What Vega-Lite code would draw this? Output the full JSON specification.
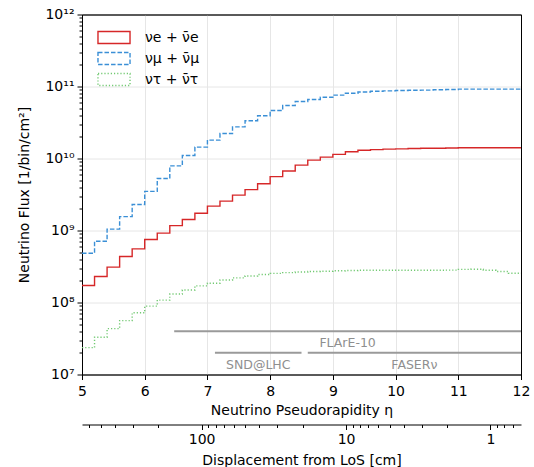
{
  "$schema": "https://vega.github.io/schema/vega-lite/v6.json",
  "width": 439,
  "height": 360,
  "autosize": "none",
  "padding": {"left": 82, "top": 14.5, "right": 13, "bottom": 92.5},
  "view": {"stroke": "black", "strokeWidth": 1},
  "config": {
    "font": "DejaVu Sans",
    "view": {"stroke": "black", "strokeWidth": 1},
    "axis": {
      "labelFontSize": 14, "titleFontSize": 14, "titleFontWeight": "normal",
      "labelColor": "black", "titleColor": "black", "domainColor": "black", "tickColor": "black",
      "gridColor": "#e6e6e6", "labelFont": "DejaVu Sans", "titleFont": "DejaVu Sans",
      "labelFlush": false, "labelOverlap": false
    }
  },
  "datasets": {
    "flux": [
      {"eta":5,"f":"e","flux":1.72e8},{"eta":5.2,"f":"e","flux":2.3e8},{"eta":5.4,"f":"e","flux":3.1e8},{"eta":5.6,"f":"e","flux":4.36e8},{"eta":5.8,"f":"e","flux":5.56e8},{"eta":6,"f":"e","flux":7.5e8},{"eta":6.2,"f":"e","flux":9.2e8},{"eta":6.4,"f":"e","flux":1.17e9},{"eta":6.6,"f":"e","flux":1.42e9},{"eta":6.8,"f":"e","flux":1.74e9},{"eta":7,"f":"e","flux":2.18e9},{"eta":7.2,"f":"e","flux":2.56e9},{"eta":7.4,"f":"e","flux":3.1e9},{"eta":7.6,"f":"e","flux":3.7e9},{"eta":7.8,"f":"e","flux":4.45e9},{"eta":8,"f":"e","flux":5.6e9},{"eta":8.2,"f":"e","flux":6.7e9},{"eta":8.4,"f":"e","flux":8.1e9},{"eta":8.6,"f":"e","flux":9.5e9},{"eta":8.8,"f":"e","flux":1.045e10},{"eta":9,"f":"e","flux":1.14e10},{"eta":9.2,"f":"e","flux":1.24e10},{"eta":9.4,"f":"e","flux":1.3e10},{"eta":9.6,"f":"e","flux":1.33e10},{"eta":9.8,"f":"e","flux":1.35e10},{"eta":10,"f":"e","flux":1.36e10},{"eta":10.2,"f":"e","flux":1.38e10},{"eta":10.4,"f":"e","flux":1.39e10},{"eta":10.6,"f":"e","flux":1.39e10},{"eta":10.8,"f":"e","flux":1.4e10},{"eta":11,"f":"e","flux":1.41e10},{"eta":11.2,"f":"e","flux":1.41e10},{"eta":11.4,"f":"e","flux":1.41e10},{"eta":11.6,"f":"e","flux":1.41e10},{"eta":11.8,"f":"e","flux":1.41e10},{"eta":12,"f":"e","flux":1.41e10},
      {"eta":5,"f":"mu","flux":4.84e8},{"eta":5.2,"f":"mu","flux":7.1e8},{"eta":5.4,"f":"mu","flux":1.045e9},{"eta":5.6,"f":"mu","flux":1.56e9},{"eta":5.8,"f":"mu","flux":2.3e9},{"eta":6,"f":"mu","flux":3.5e9},{"eta":6.2,"f":"mu","flux":5.27e9},{"eta":6.4,"f":"mu","flux":7.9e9},{"eta":6.6,"f":"mu","flux":1.1e10},{"eta":6.8,"f":"mu","flux":1.44e10},{"eta":7,"f":"mu","flux":1.8e10},{"eta":7.2,"f":"mu","flux":2.22e10},{"eta":7.4,"f":"mu","flux":2.75e10},{"eta":7.6,"f":"mu","flux":3.35e10},{"eta":7.8,"f":"mu","flux":3.93e10},{"eta":8,"f":"mu","flux":4.65e10},{"eta":8.2,"f":"mu","flux":5.45e10},{"eta":8.4,"f":"mu","flux":6.2e10},{"eta":8.6,"f":"mu","flux":6.6e10},{"eta":8.8,"f":"mu","flux":7.08e10},{"eta":9,"f":"mu","flux":7.6e10},{"eta":9.2,"f":"mu","flux":8.07e10},{"eta":9.4,"f":"mu","flux":8.4e10},{"eta":9.6,"f":"mu","flux":8.6e10},{"eta":9.8,"f":"mu","flux":8.7e10},{"eta":10,"f":"mu","flux":8.8e10},{"eta":10.2,"f":"mu","flux":8.85e10},{"eta":10.4,"f":"mu","flux":8.9e10},{"eta":10.6,"f":"mu","flux":9.0e10},{"eta":10.8,"f":"mu","flux":9.1e10},{"eta":11,"f":"mu","flux":9.2e10},{"eta":11.2,"f":"mu","flux":9.2e10},{"eta":11.4,"f":"mu","flux":9.2e10},{"eta":11.6,"f":"mu","flux":9.2e10},{"eta":11.8,"f":"mu","flux":9.2e10},{"eta":12,"f":"mu","flux":9.2e10},
      {"eta":5,"f":"tau","flux":2.36e7},{"eta":5.2,"f":"tau","flux":3.29e7},{"eta":5.4,"f":"tau","flux":4.33e7},{"eta":5.6,"f":"tau","flux":5.6e7},{"eta":5.8,"f":"tau","flux":7.2e7},{"eta":6,"f":"tau","flux":8.9e7},{"eta":6.2,"f":"tau","flux":1.08e8},{"eta":6.4,"f":"tau","flux":1.31e8},{"eta":6.6,"f":"tau","flux":1.49e8},{"eta":6.8,"f":"tau","flux":1.7e8},{"eta":7,"f":"tau","flux":1.85e8},{"eta":7.2,"f":"tau","flux":2.05e8},{"eta":7.4,"f":"tau","flux":2.2e8},{"eta":7.6,"f":"tau","flux":2.33e8},{"eta":7.8,"f":"tau","flux":2.45e8},{"eta":8,"f":"tau","flux":2.54e8},{"eta":8.2,"f":"tau","flux":2.6e8},{"eta":8.4,"f":"tau","flux":2.65e8},{"eta":8.6,"f":"tau","flux":2.7e8},{"eta":8.8,"f":"tau","flux":2.72e8},{"eta":9,"f":"tau","flux":2.76e8},{"eta":9.2,"f":"tau","flux":2.78e8},{"eta":9.4,"f":"tau","flux":2.8e8},{"eta":9.6,"f":"tau","flux":2.8e8},{"eta":9.8,"f":"tau","flux":2.8e8},{"eta":10,"f":"tau","flux":2.81e8},{"eta":10.2,"f":"tau","flux":2.8e8},{"eta":10.4,"f":"tau","flux":2.8e8},{"eta":10.6,"f":"tau","flux":2.8e8},{"eta":10.8,"f":"tau","flux":2.82e8},{"eta":11,"f":"tau","flux":2.88e8},{"eta":11.2,"f":"tau","flux":2.9e8},{"eta":11.4,"f":"tau","flux":2.8e8},{"eta":11.6,"f":"tau","flux":2.7e8},{"eta":11.8,"f":"tau","flux":2.55e8},{"eta":12,"f":"tau","flux":2.55e8}
    ],
    "experiments": [
      {"name":"FLArE-10","start":6.47,"end":12,"flux":4e7},
      {"name":"SND@LHC","start":7.12,"end":8.5,"flux":2e7},
      {"name":"FASERν","start":8.6,"end":12,"flux":2e7}
    ],
    "displacement": [{"d":1},{"d":10},{"d":100}]
  },
  "layer": [
    {
      "layer": [
        {
          "data": {"name": "flux"},
          "mark": {"type": "line", "interpolate": "step-after", "strokeWidth": 1.4},
          "encoding": {
            "x": {"field": "eta", "type": "quantitative",
              "scale": {"domain": [5, 12], "nice": false},
              "axis": {"title": "Neutrino Pseudorapidity η", "values": [5,6,7,8,9,10,11,12], "format": "d", "tickSize": 5, "labelPadding": 5, "titlePadding": 5, "grid": true}},
            "y": {"field": "flux", "type": "quantitative",
              "scale": {"type": "log", "domain": [1e7, 1e12], "nice": false},
              "axis": {"title": "Neutrino Flux [1/bin/cm²]", "values": [1e7,1e8,1e9,1e10,1e11,1e12], "tickSize": 5, "labelPadding": 3, "titlePadding": 13, "grid": true,
                "labelExpr": "datum.value < 5e7 ? '10⁷' : datum.value < 5e8 ? '10⁸' : datum.value < 5e9 ? '10⁹' : datum.value < 5e10 ? '10¹⁰' : datum.value < 5e11 ? '10¹¹' : '10¹²'"}},
            "color": {"field": "f", "type": "nominal",
              "scale": {"domain": ["e","mu","tau"], "range": ["#d62728","#3a8fd6","#72c972"]},
              "legend": {"title": null, "orient": "none", "legendX": 25, "legendY": 16,
                "symbolType": "M-2.67,-1H2.67V1H-2.67Z", "symbolSize": 144, "symbolStrokeWidth": 1.4, "symbolFillColor": "transparent",
                "labelFontSize": 14, "labelFont": "DejaVu Sans", "labelColor": "black", "labelOffset": 24, "rowPadding": 3,
                "labelExpr": "datum.value == 'e' ? 'νe + ν̄e' : datum.value == 'mu' ? 'νμ + ν̄μ' : 'ντ + ν̄τ'"}},
            "strokeDash": {"field": "f", "type": "nominal",
              "scale": {"domain": ["e","mu","tau"], "range": [[1,0],[4.5,2],[1.2,2]]},
              "legend": {"title": null, "orient": "none", "legendX": 25, "legendY": 16,
                "symbolType": "M-2.67,-1H2.67V1H-2.67Z", "symbolSize": 144, "symbolStrokeWidth": 1.4, "symbolFillColor": "transparent",
                "labelFontSize": 14, "labelFont": "DejaVu Sans", "labelColor": "black", "labelOffset": 24, "rowPadding": 3,
                "labelExpr": "datum.value == 'e' ? 'νe + ν̄e' : datum.value == 'mu' ? 'νμ + ν̄μ' : 'ντ + ν̄τ'"}}
          }
        },
        {
          "data": {"name": "experiments"},
          "mark": {"type": "rule", "color": "#9a9a9a", "strokeWidth": 2},
          "encoding": {
            "x": {"field": "start", "type": "quantitative"},
            "x2": {"field": "end"},
            "y": {"field": "flux", "type": "quantitative"}
          }
        },
        {
          "data": {"name": "experiments"},
          "transform": [{"calculate": "(datum.start + datum.end) / 2", "as": "mid"}],
          "mark": {"type": "text", "color": "#8f8f8f", "fontSize": 12.5, "dy": 12, "baseline": "middle", "align": "center"},
          "encoding": {
            "x": {"field": "mid", "type": "quantitative"},
            "y": {"field": "flux", "type": "quantitative"},
            "text": {"field": "name"}
          }
        }
      ]
    },
    {
      "data": {"name": "flux"},
      "mark": {"type": "point", "opacity": 0},
      "encoding": {
        "y": {"field": "flux", "type": "quantitative",
          "scale": {"type": "log", "domain": [1e7, 1e12], "nice": false},
          "axis": {"orient": "left", "title": null, "labels": false, "domain": false, "grid": false, "tickSize": 3,
            "values": [2e7,3e7,4e7,5e7,6e7,7e7,8e7,9e7,2e8,3e8,4e8,5e8,6e8,7e8,8e8,9e8,2e9,3e9,4e9,5e9,6e9,7e9,8e9,9e9,2e10,3e10,4e10,5e10,6e10,7e10,8e10,9e10,2e11,3e11,4e11,5e11,6e11,7e11,8e11,9e11]}}
      }
    },
    {
      "data": {"name": "flux"},
      "mark": {"type": "point", "opacity": 0},
      "encoding": {
        "x": {"field": "eta", "type": "quantitative",
          "scale": {"domain": [5, 12], "nice": false},
          "axis": {"orient": "top", "title": null, "labels": false, "ticks": false, "grid": false, "domain": true, "domainColor": "black"}},
        "y": {"field": "flux", "type": "quantitative",
          "scale": {"type": "log", "domain": [1e7, 1e12], "nice": false},
          "axis": {"orient": "right", "title": null, "labels": false, "ticks": false, "grid": false, "domain": true, "domainColor": "black"}}
      }
    },
    {
      "data": {"name": "displacement"},
      "mark": {"type": "point", "opacity": 0},
      "encoding": {
        "x": {"field": "d", "type": "quantitative",
          "scale": {"type": "log", "domain": [0.6144, 673.8], "reverse": true, "nice": false},
          "axis": {"orient": "bottom", "offset": 50, "title": "Displacement from LoS [cm]", "values": [1, 10, 100], "format": "d", "tickSize": 5, "labelPadding": 3, "titlePadding": 7, "grid": false}}
      }
    },
    {
      "data": {"name": "displacement"},
      "mark": {"type": "point", "opacity": 0},
      "encoding": {
        "x": {"field": "d", "type": "quantitative",
          "scale": {"type": "log", "domain": [0.6144, 673.8], "reverse": true, "nice": false},
          "axis": {"orient": "bottom", "offset": 50, "title": null, "labels": false, "domain": false, "grid": false, "tickSize": 3,
            "values": [0.7,0.8,0.9,2,3,4,5,6,7,8,9,20,30,40,50,60,70,80,90,200,300,400,500,600]}}
      }
    }
  ],
  "resolve": {"scale": {"x": "independent", "y": "independent"}}
}
